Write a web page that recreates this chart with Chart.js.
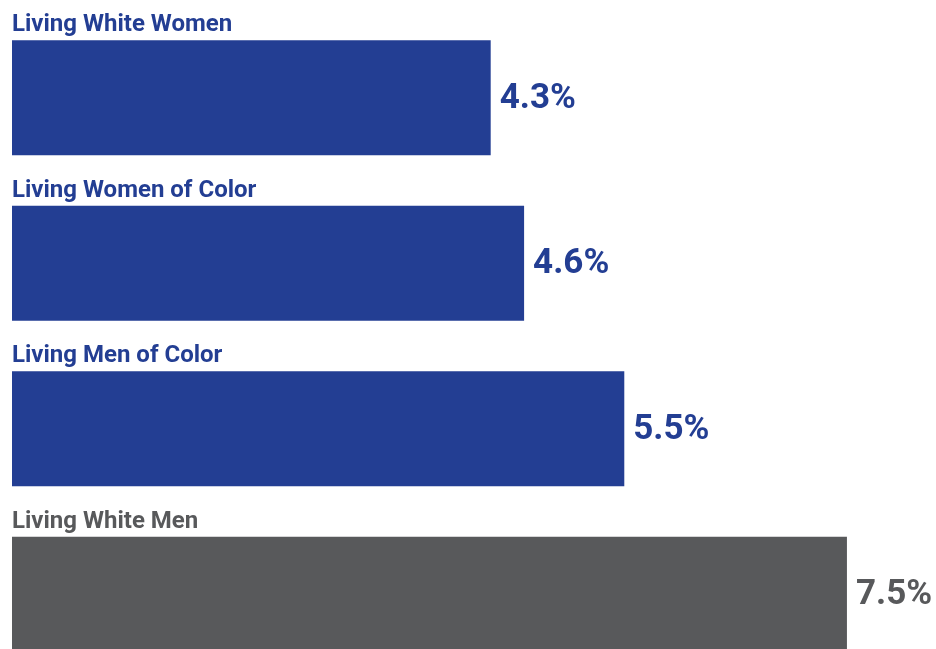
<!DOCTYPE html>
<html>
<head>
<meta charset="utf-8">
<script src="https://cdn.jsdelivr.net/npm/chart.js@4/dist/chart.umd.min.js"></script>
<style>
  html, body { margin: 0; padding: 0; background: #ffffff; overflow: hidden; }
  #wrap { width: 936px; height: 677px; }
</style>
</head>
<body>
<div id="wrap"><canvas id="chart" width="936" height="677"></canvas></div>
<script>
// Share of each group (percent)
const categories = ['Living White Women', 'Living Women of Color', 'Living Men of Color', 'Living White Men'];
const values = [4.3, 4.6, 5.5, 7.5];

// Styling
const BLUE = '#233E93';
const GRAY = '#58595B';
const barColors = [BLUE, BLUE, BLUE, GRAY];
const FONT = 'Roboto, "Liberation Sans", Arial, sans-serif';

// Draws the group name above each bar and its value to the right of it
const barLabels = {
  id: 'barLabels',
  afterDatasetsDraw(chart) {
    const ctx = chart.ctx;
    const meta = chart.getDatasetMeta(0);
    ctx.save();
    meta.data.forEach((bar, i) => {
      const color = barColors[i];
      const top = bar.y - bar.height / 2;
      ctx.fillStyle = color;
      ctx.textAlign = 'left';
      ctx.textBaseline = 'alphabetic';
      ctx.font = 'bold 24px ' + FONT;
      ctx.fillText(categories[i], bar.base, top - 9);
      ctx.textBaseline = 'middle';
      ctx.font = 'bold 35px ' + FONT;
      ctx.fillText(values[i].toFixed(1) + '%', bar.x + 9, bar.y + 1);
    });
    ctx.restore();
  }
};

new Chart(document.getElementById('chart'), {
  type: 'bar',
  data: {
    labels: categories,
    datasets: [{
      data: values,
      backgroundColor: barColors,
      borderWidth: 0,
      barPercentage: 0.695,
      categoryPercentage: 1.0
    }]
  },
  options: {
    indexAxis: 'y',
    responsive: false,
    animation: false,
    layout: { padding: { top: 15, left: 12, right: 0, bottom: 0 } },
    plugins: {
      legend: { display: false },
      tooltip: { enabled: false }
    },
    scales: {
      x: { display: false, min: 0, max: 8.3 },
      y: { display: false, offset: true }
    }
  },
  plugins: [barLabels]
});
</script>
</body>
</html>
